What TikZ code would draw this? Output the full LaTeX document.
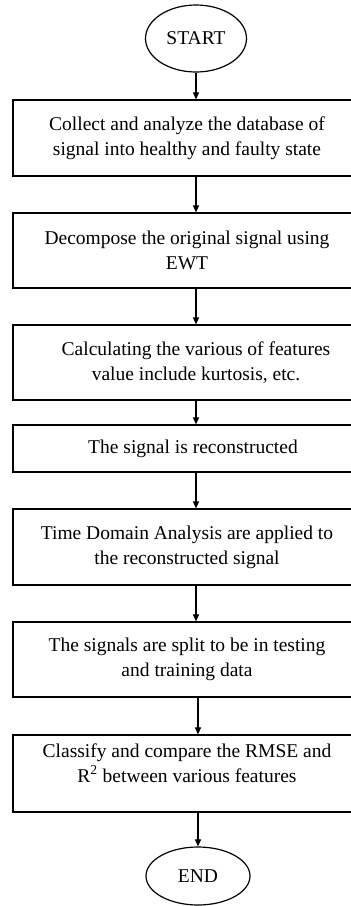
\documentclass[tikz,border=0pt]{standalone}
\usepackage{fontspec}
\setmainfont{Liberation Serif}
\usetikzlibrary{shapes.geometric,arrows.meta}
\begin{document}
\begin{tikzpicture}[x=1pt,y=-1pt,
  txt/.style={font=\fontsize{19.5}{25}\selectfont},
  stepbox/.style={draw,line width=1.2pt,minimum width=348pt,inner sep=0pt,align=center,txt},
  term/.style={draw,ellipse,line width=1.2pt,inner sep=0pt,txt},
  flow/.style={line width=1.1pt,-{Triangle[length=7pt,width=6pt]}}]
\clip (0,0) rectangle (351,906);
\node[term,minimum width=101pt,minimum height=67pt] (start) at (196,38.5) {START};
\node[stepbox,minimum height=76pt] (b1) at (187,138) {Collect and analyze the database of\\signal into healthy and faulty state};
\node[stepbox,minimum height=75pt] (b2) at (187,250.5) {Decompose the original signal using\\EWT};
\node[stepbox,minimum height=75pt] (b3) at (187,362.5) {\hspace*{18pt}Calculating the various of features\\\hspace*{18pt}value include kurtosis, etc.};
\node[stepbox,minimum height=47pt] (b4) at (187,448.5) {\hspace*{12pt}The signal is reconstructed};
\node[stepbox,minimum height=76pt] (b5) at (187,547) {Time Domain Analysis are applied to\\the reconstructed signal};
\node[stepbox,minimum height=75pt] (b6) at (187,659.5) {The signals are split to be in testing\\and training data};
\node[stepbox,minimum height=77pt] (b7) at (187,773.5) {Classify and compare the RMSE and\\R\textsuperscript{2} between various features\\[-4pt]\mbox{}};
\node[term,minimum width=104pt,minimum height=58pt] (end) at (198,876) {END};
\draw[flow] (start) -- (start |- b1.north);
\draw[flow] (b1.south -| start) -- (b2.north -| start);
\draw[flow] (b2.south -| start) -- (b3.north -| start);
\draw[flow] (b3.south -| start) -- (b4.north -| start);
\draw[flow] (b4.south -| start) -- (b5.north -| start);
\draw[flow] (b5.south -| start) -- (b6.north -| start);
\draw[flow] (b6.south -| end) -- (b7.north -| end);
\draw[flow] (b7.south -| end) -- (end);
\end{tikzpicture}
\end{document}
